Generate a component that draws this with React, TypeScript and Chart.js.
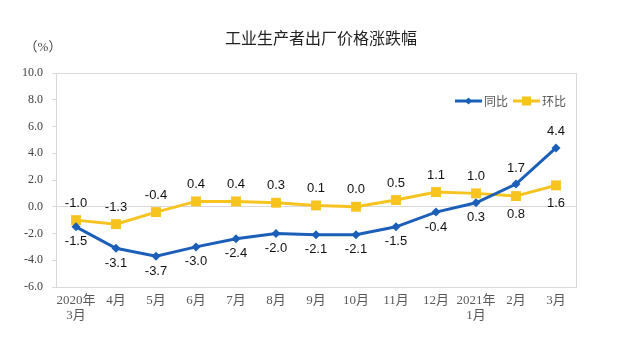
import React, { useEffect, useRef } from "react";
import { Chart, registerables } from "chart.js";

Chart.register(...registerables);

const categories: string[][] = [
  ["2020年", "3月"], ["4月"], ["5月"], ["6月"], ["7月"], ["8月"], ["9月"],
  ["10月"], ["11月"], ["12月"], ["2021年", "1月"], ["2月"], ["3月"],
];
const yoy = [-1.5, -3.1, -3.7, -3.0, -2.4, -2.0, -2.1, -2.1, -1.5, -0.4, 0.3, 1.7, 4.4];
const mom = [-1.0, -1.3, -0.4, 0.4, 0.4, 0.3, 0.1, 0.0, 0.5, 1.1, 1.0, 0.8, 1.6];
// label placement: 1 = above, -1 = below
const yoyLabelSide = [-1, -1, -1, -1, -1, -1, -1, -1, -1, -1, -1, 1, 1];
const momLabelSide = [1, 1, 1, 1, 1, 1, 1, 1, 1, 1, 1, -1, -1];
const yTicks = [-6, -4, -2, 0, 2, 4, 6, 8, 10];

const BLUE = "#1B5FB9";
const YELLOW = "#F7C31E";
const title = "工业生产者出厂价格涨跌幅";
const unit = "（%）";

const decorPlugin = {
  id: "decor",
  beforeDraw(chart: any) {
    const { ctx, chartArea } = chart;
    ctx.save();
    ctx.fillStyle = "#fff";
    ctx.fillRect(0, 0, chart.width, chart.height);
    ctx.strokeStyle = "#d9d9d9";
    ctx.lineWidth = 1;
    ctx.strokeRect(
      Math.round(chartArea.left) + 0.5,
      Math.round(chartArea.top) + 0.5,
      Math.round(chartArea.right - chartArea.left),
      Math.round(chartArea.bottom - chartArea.top)
    );
    ctx.restore();
  },
  afterDraw(chart: any) {
    const { ctx } = chart;
    ctx.save();
    ctx.fillStyle = "#222";
    ctx.font = "16px 'Noto Sans CJK SC'";
    ctx.textAlign = "center";
    ctx.textBaseline = "middle";
    ctx.fillText(title, 321, 38);
    ctx.fillStyle = "#444";
    ctx.font = "13px 'Liberation Serif', 'Noto Sans CJK SC'";
    ctx.fillText(unit, 43, 48);

    // data labels
    ctx.font = "13px 'Liberation Sans', Arial, sans-serif";
    ctx.fillStyle = "#111";
    const drawLabels = (dsIndex: number, values: number[], sides: number[], offA: number, offB: number) => {
      const meta = chart.getDatasetMeta(dsIndex);
      meta.data.forEach((pt: any, i: number) => {
        const side = sides[i];
        const y = side > 0 ? pt.y - offA : pt.y + offB;
        ctx.fillText(values[i].toFixed(1), pt.x, y);
      });
    };
    drawLabels(0, yoy, yoyLabelSide, 16, 15);
    drawLabels(1, mom, momLabelSide, 17, 18);

    // legend
    const ly = 101;
    const items = [
      { x: 455, color: BLUE, label: "同比", kind: "diamond" },
      { x: 513, color: YELLOW, label: "环比", kind: "square" },
    ];
    items.forEach((it) => {
      ctx.strokeStyle = it.color;
      ctx.lineWidth = 3;
      ctx.beginPath();
      ctx.moveTo(it.x, ly);
      ctx.lineTo(it.x + 27, ly);
      ctx.stroke();
      ctx.fillStyle = it.color;
      const cx = it.x + 13.5;
      if (it.kind === "diamond") {
        ctx.beginPath();
        ctx.moveTo(cx, ly - 3.5);
        ctx.lineTo(cx + 3.5, ly);
        ctx.lineTo(cx, ly + 3.5);
        ctx.lineTo(cx - 3.5, ly);
        ctx.closePath();
        ctx.fill();
      } else {
        ctx.fillRect(cx - 4.5, ly - 4.5, 9, 9);
      }
      ctx.fillStyle = "#555";
      ctx.font = "12px 'Noto Sans CJK SC'";
      ctx.textAlign = "left";
      ctx.fillText(it.label, it.x + 29, ly);
    });
    ctx.restore();
  },
};

export default function App() {
  const ref = useRef<HTMLCanvasElement | null>(null);
  useEffect(() => {
    document.body.style.margin = "0";
    const canvas = ref.current!;
    const chart = new Chart(canvas, {
      type: "line",
      data: {
        labels: categories,
        datasets: [
          {
            label: "同比",
            data: yoy,
            borderColor: BLUE,
            backgroundColor: BLUE,
            borderWidth: 3,
            pointStyle: "rectRot",
            pointRadius: 4.5,
            pointBorderWidth: 0,
            tension: 0,
          },
          {
            label: "环比",
            data: mom,
            borderColor: YELLOW,
            backgroundColor: YELLOW,
            borderWidth: 3,
            pointStyle: "rect",
            pointRadius: 7,
            pointBorderWidth: 0,
            tension: 0,
          },
        ],
      },
      options: {
        responsive: false,
        animation: false,
        layout: { padding: { left: 0, right: 45, top: 73, bottom: 0 } },
        plugins: { legend: { display: false }, tooltip: { enabled: false }, title: { display: false } },
        scales: {
          x: {
            offset: true,
            grid: { display: false, drawTicks: false },
            border: { display: false },
            ticks: {
              color: "#595959",
              font: { family: "'Liberation Serif', 'Noto Sans CJK SC'", size: 13, lineHeight: 1.15 },
              padding: 6,
              maxRotation: 0,
              autoSkip: false,
            },
            afterFit(scale: any) {
              scale.height = 360 - 287;
            },
          },
          y: {
            min: -6,
            max: 10,
            afterBuildTicks(scale: any) {
              scale.ticks = yTicks.map((v) => ({ value: v }));
            },
            grid: {
              color: (c: any) => (c.tick && c.tick.value === 0 ? "#d9d9d9" : "rgba(0,0,0,0)"),
              tickColor: "#d9d9d9",
              tickLength: 4,
              drawOnChartArea: true,
            },
            border: { display: false },
            ticks: {
              color: "#404040",
              font: { family: "'Liberation Serif', serif", size: 12 },
              padding: 9,
              callback: (v: any) => Number(v).toFixed(1),
            },
            afterFit(scale: any) {
              scale.width = 56;
            },
          },
        },
      },
      plugins: [decorPlugin],
    });
    return () => chart.destroy();
  }, []);
  return (
    <div style={{ width: 621, height: 360, background: "#fff" }}>
      <canvas ref={ref} width={621} height={360} />
    </div>
  );
}
